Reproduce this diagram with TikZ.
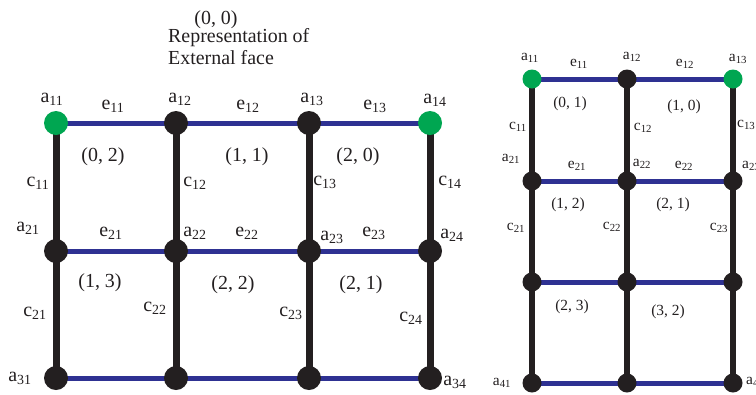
\documentclass[tikz,border=0pt]{standalone}
\usepackage{fontspec}
\setmainfont{Liberation Serif}
\definecolor{dgreen}{HTML}{00A651}
\definecolor{dblue}{HTML}{2E3192}
\definecolor{dblack}{HTML}{231F20}
\newcommand{\lbl}[2]{#1\textsubscript{#2}}
\pgfdeclarelayer{bg}
\pgfsetlayers{bg,main}
\begin{document}
\begin{tikzpicture}[x=1bp,y=-1bp,
  bigtxt/.style={font=\fontsize{20}{24}\selectfont, inner sep=0pt, text=dblack},
  smalltxt/.style={font=\fontsize{15.5}{18}\selectfont, inner sep=0pt, text=dblack},
  bdot/.style={circle, fill=dblack, minimum size=24bp, inner sep=0pt},
  gdot/.style={circle, fill=dgreen, minimum size=24bp, inner sep=0pt},
  sbdot/.style={circle, fill=dblack, minimum size=19bp, inner sep=0pt},
  sgdot/.style={circle, fill=dgreen, minimum size=19bp, inner sep=0pt},
  hedge/.style={draw=dblue, line width=5bp},
  vedge/.style={draw=dblack, line width=7bp},
  svedge/.style={draw=dblack, line width=6bp},
  shedge/.style={draw=dblue, line width=5bp}]
\useasboundingbox (0,0) rectangle (756,394);
\clip (0,0) rectangle (756,394);
% ---------- left grid ----------
\node[gdot] (L11) at (56,123) {};
\node[bdot] (L12) at (176,123) {};
\node[bdot] (L13) at (309,123) {};
\node[gdot] (L14) at (430,123) {};
\node[bdot] (L21) at (56,251) {};
\node[bdot] (L22) at (176,251) {};
\node[bdot] (L23) at (309,251) {};
\node[bdot] (L24) at (430,251) {};
\node[bdot] (L31) at (56,378) {};
\node[bdot] (L32) at (176,378) {};
\node[bdot] (L33) at (309,378) {};
\node[bdot] (L34) at (430,378) {};
\begin{pgfonlayer}{bg}
\foreach \r in {1,2,3}{
  \draw[hedge] (L\r1.center) -- (L\r2.center);
  \draw[hedge] (L\r2.center) -- (L\r3.center);
  \draw[hedge] (L\r3.center) -- (L\r4.center);
}
\foreach \c in {1,2,3,4}{
  \draw[vedge] (L1\c.center) -- (L2\c.center);
  \draw[vedge] (L2\c.center) -- (L3\c.center);
}
\end{pgfonlayer}
% left texts
\node[bigtxt] (t00) at (216,20) {(0, 0)};
\node[bigtxt, anchor=west] (trep) at (168,38) {Representation of};
\node[bigtxt, anchor=west] (text) at (168,58) {External face};
\node[bigtxt] (la11) at (52,99) {\lbl{a}{11}};
\node[bigtxt] (la12) at (180,99) {\lbl{a}{12}};
\node[bigtxt] (la13) at (312,99) {\lbl{a}{13}};
\node[bigtxt] (la14) at (435,100) {\lbl{a}{14}};
\node[bigtxt] (le11) at (113,106) {\lbl{e}{11}};
\node[bigtxt] (le12) at (248,106) {\lbl{e}{12}};
\node[bigtxt] (le13) at (375,106) {\lbl{e}{13}};
\node[bigtxt] (lf02) at (103,157) {(0, 2)};
\node[bigtxt] (lf11) at (247,157) {(1, 1)};
\node[bigtxt] (lf20) at (358,157) {(2, 0)};
\node[bigtxt] (lc11) at (38,183) {\lbl{c}{11}};
\node[bigtxt] (lc12) at (195,183) {\lbl{c}{12}};
\node[bigtxt] (lc13) at (325,182) {\lbl{c}{13}};
\node[bigtxt] (lc14) at (450,182) {\lbl{c}{14}};
\node[bigtxt] (la21) at (28,228) {\lbl{a}{21}};
\node[bigtxt] (la22) at (195,233) {\lbl{a}{22}};
\node[bigtxt] (la23) at (332,237) {\lbl{a}{23}};
\node[bigtxt] (la24) at (452,235) {\lbl{a}{24}};
\node[bigtxt] (le21) at (111,233) {\lbl{e}{21}};
\node[bigtxt] (le22) at (247,233) {\lbl{e}{22}};
\node[bigtxt] (le23) at (374,233) {\lbl{e}{23}};
\node[bigtxt] (lf13) at (100,283) {(1, 3)};
\node[bigtxt] (lf22) at (233,285) {(2, 2)};
\node[bigtxt] (lf21) at (361,285) {(2, 1)};
\node[bigtxt] (lc21) at (35,313) {\lbl{c}{21}};
\node[bigtxt] (lc22) at (155,308) {\lbl{c}{22}};
\node[bigtxt] (lc23) at (291,313) {\lbl{c}{23}};
\node[bigtxt] (lc24) at (411,318) {\lbl{c}{24}};
\node[bigtxt] (la31) at (20,378) {\lbl{a}{31}};
\node[bigtxt] (la34) at (455,382) {\lbl{a}{34}};
% ---------- right grid ----------
\node[sgdot] (R11) at (532,79) {};
\node[sbdot] (R12) at (627,79) {};
\node[sgdot] (R13) at (733,79) {};
\node[sbdot] (R21) at (532,181) {};
\node[sbdot] (R22) at (627,181) {};
\node[sbdot] (R23) at (733,181) {};
\node[sbdot] (R31) at (532,282) {};
\node[sbdot] (R32) at (627,282) {};
\node[sbdot] (R33) at (733,282) {};
\node[sbdot] (R41) at (532,383) {};
\node[sbdot] (R42) at (627,383) {};
\node[sbdot] (R43) at (733,383) {};
\begin{pgfonlayer}{bg}
\foreach \r in {1,2,3,4}{
  \draw[shedge] (R\r1.center) -- (R\r2.center);
  \draw[shedge] (R\r2.center) -- (R\r3.center);
}
\foreach \c in {1,2,3}{
  \draw[svedge] (R1\c.center) -- (R2\c.center);
  \draw[svedge] (R2\c.center) -- (R3\c.center);
  \draw[svedge] (R3\c.center) -- (R4\c.center);
}
\end{pgfonlayer}
% right texts
\node[smalltxt] (ra11) at (530,58) {\lbl{a}{11}};
\node[smalltxt] (ra12) at (632,57) {\lbl{a}{12}};
\node[smalltxt] (ra13) at (738,59) {\lbl{a}{13}};
\node[smalltxt] (re11) at (579,64) {\lbl{e}{11}};
\node[smalltxt] (re12) at (685,64) {\lbl{e}{12}};
\node[smalltxt] (rf01) at (570,104) {(0, 1)};
\node[smalltxt] (rf10) at (684,107) {(1, 0)};
\node[smalltxt] (rc11) at (518,127) {\lbl{c}{11}};
\node[smalltxt] (rc12) at (643,128) {\lbl{c}{12}};
\node[smalltxt, anchor=west] (rc13) at (737,125) {\lbl{c}{13}};
\node[smalltxt] (ra21) at (511,159) {\lbl{a}{21}};
\node[smalltxt] (ra22) at (642,164) {\lbl{a}{22}};
\node[smalltxt, anchor=west] (ra23) at (742,166) {\lbl{a}{23}};
\node[smalltxt] (re21) at (577,166) {\lbl{e}{21}};
\node[smalltxt] (re22) at (684,166) {\lbl{e}{22}};
\node[smalltxt] (rf12) at (568,205) {(1, 2)};
\node[smalltxt] (rf21) at (673,205) {(2, 1)};
\node[smalltxt] (rc21) at (516,228) {\lbl{c}{21}};
\node[smalltxt] (rc22) at (612,227) {\lbl{c}{22}};
\node[smalltxt] (rc23) at (719,228) {\lbl{c}{23}};
\node[smalltxt] (rf23) at (572,307) {(2, 3)};
\node[smalltxt] (rf32) at (668,312) {(3, 2)};
\node[smalltxt] (ra41) at (502,383) {\lbl{a}{41}};
\node[smalltxt, anchor=west] (ra43) at (746,382) {\lbl{a}{43}};
\end{tikzpicture}
\end{document}
